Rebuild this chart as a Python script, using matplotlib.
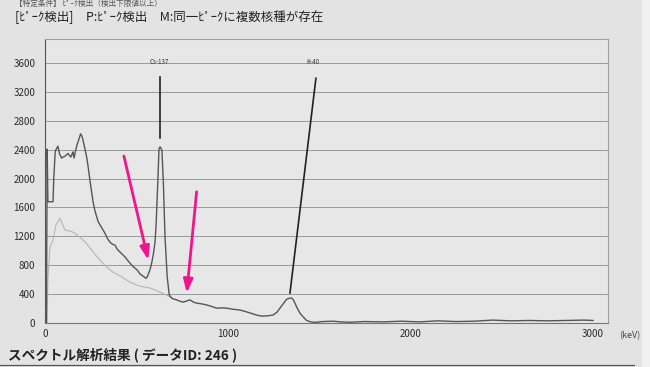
import matplotlib
matplotlib.use("Agg")
import matplotlib.pyplot as plt
from matplotlib.patches import Rectangle
from matplotlib.lines import Line2D

plt.rcParams['font.family'] = ['Noto Sans CJK JP', 'DejaVu Sans']

# main spectrum (keV, counts)
energy = [8, 12, 16, 44, 48, 56, 60, 71, 80, 91, 100, 109, 118, 126, 134, 142, 148, 153, 159,
          167, 175, 185, 195, 202, 208, 218, 228, 237, 246, 255, 263, 273, 283, 292, 301, 315,
          328, 342, 356, 370, 383, 396, 410, 424, 438, 452, 465, 479, 493, 506, 520, 536, 553,
          560, 564, 575, 584, 593, 602, 608, 613, 619, 624, 630, 640, 648, 657, 669, 680, 693,
          707, 721, 740, 757, 776, 794, 812, 830, 858, 885, 912, 940, 968, 995, 1030, 1067,
          1095, 1122, 1145, 1166, 1190, 1220, 1248, 1270, 1286, 1305, 1323, 1340, 1350, 1360,
          1368, 1382, 1396, 1415, 1432, 1455, 1478, 1520, 1576, 1620, 1669, 1750, 1850, 1950,
          2050, 2150, 2250, 2350, 2450, 2550, 2650, 2750, 2850, 2950, 3000]
counts = [0, 2410, 1680, 1680, 2000, 2370, 2400, 2450, 2340, 2285, 2300, 2310, 2330, 2350, 2320,
          2300, 2340, 2370, 2285, 2380, 2465, 2540, 2620, 2590, 2535, 2420, 2300, 2150, 1980,
          1820, 1680, 1560, 1470, 1400, 1360, 1300, 1245, 1170, 1120, 1090, 1080, 1020, 985,
          950, 915, 870, 830, 790, 760, 730, 680, 650, 620, 640, 665, 740, 830, 950, 1110, 1350,
          1660, 2050, 2410, 2440, 2395, 1940, 1190, 640, 390, 345, 330, 320, 300, 290, 305, 320,
          290, 275, 265, 250, 230, 205, 210, 205, 190, 180, 160, 140, 120, 105, 95, 100, 110,
          150, 205, 270, 330, 345, 345, 320, 275, 200, 135, 80, 35, 15, 8, 20, 25, 15, 10, 20,
          15, 25, 15, 30, 20, 25, 40, 30, 35, 30, 35, 40, 35]

# lighter second spectrum
bg_energy = [11, 16, 27, 44, 60, 82, 109, 153, 191, 228, 263, 301, 338, 372, 420, 465, 520,
             575, 629, 662, 700]
bg_counts = [0, 600, 1050, 1150, 1360, 1450, 1290, 1260, 1190, 1100, 985, 870, 775, 705, 640,
             565, 510, 485, 430, 390, 340]

# nuclide markers: label, label x, line start, line end
nuclides = ["Cs-137", "K-40"]
label_x = [624, 1467]
line_x0 = [629, 1341]
line_y0 = [2560, 415]
line_x1 = [629, 1483]
line_y1 = [3405, 3390]

# pink arrows (tail -> tip)
arrow_tail = [(432, 2313), (830, 1818)]
arrow_tip = [(565, 873), (776, 415)]

yticks = list(range(0, 3601, 400))
xticks = [0, 1000, 2000, 3000]

paper = '#e3e3e3'
fig = plt.figure(figsize=(6.5, 3.67), dpi=100, facecolor=paper)
fig.patches.append(Rectangle((0.988, 0), 0.02, 1, transform=fig.transFigure,
                             color='#f1f1f1', zorder=-1))
ax = fig.add_axes([0.0692, 0.1199, 0.8657, 0.773])
ax.set_facecolor('#e7e7e7')

ax.set_xlim(0, 3080)
ax.set_ylim(0, 3930)
ax.set_yticks(yticks)
ax.set_xticks(xticks)
ax.set_yticklabels([str(v) for v in yticks])
ax.set_xticklabels([str(v) for v in xticks])
ax.tick_params(length=0, labelsize=7, colors='#2a2a2a')
ax.tick_params(axis='y', pad=7)
ax.tick_params(axis='x', pad=4)
ax.grid(axis='y', color='#9a9a9a', lw=0.7)
ax.set_axisbelow(True)
for s in ax.spines.values():
    s.set_color('#a0a0a0')
    s.set_linewidth(0.8)
ax.spines['left'].set_color('#555555')
ax.spines['bottom'].set_color('#777777')

ax.plot(bg_energy, bg_counts, color='#b5b5b5', lw=0.8)
ax.plot(energy, counts, color='#555555', lw=1.0)

for i in range(len(nuclides)):
    ax.plot([line_x0[i], line_x1[i]], [line_y0[i], line_y1[i]], color='#222222', lw=1.2)
    ax.text(label_x[i], 3610, nuclides[i], ha='center', va='center', fontsize=4.5,
            color='#333333')

for t, h in zip(arrow_tail, arrow_tip):
    ax.annotate('', xy=h, xytext=t,
                arrowprops=dict(arrowstyle='-|>,head_length=0.8,head_width=0.28',
                                color='#f0158a', lw=2.0, shrinkA=0, shrinkB=0))

ax.text(1.02, -0.027, '(keV)', transform=ax.transAxes, fontsize=6.5, color='#444444',
        ha='left', va='top')

fig.text(0.023, 1.0, '【特定条件】 ﾋﾟｰｸ検出（検出下限値以上）', fontsize=5.5, color='#555555',
         va='top', ha='left')
fig.text(0.023, 0.952, '[ﾋﾟｰｸ検出]　P:ﾋﾟｰｸ検出　M:同一ﾋﾟｰｸに複数核種が存在', fontsize=9,
         color='#222222', va='center', ha='left')
fig.text(0.012, 0.033, 'スペクトル解析結果 ( データID: 246 )', fontsize=9.8, fontweight='bold',
         color='#222222', va='center', ha='left')
fig.lines.append(Line2D([0.0, 0.975], [0.006, 0.006], transform=fig.transFigure,
                        color='#555555', lw=0.9))

fig.savefig('out.png', dpi=100, facecolor=paper)
